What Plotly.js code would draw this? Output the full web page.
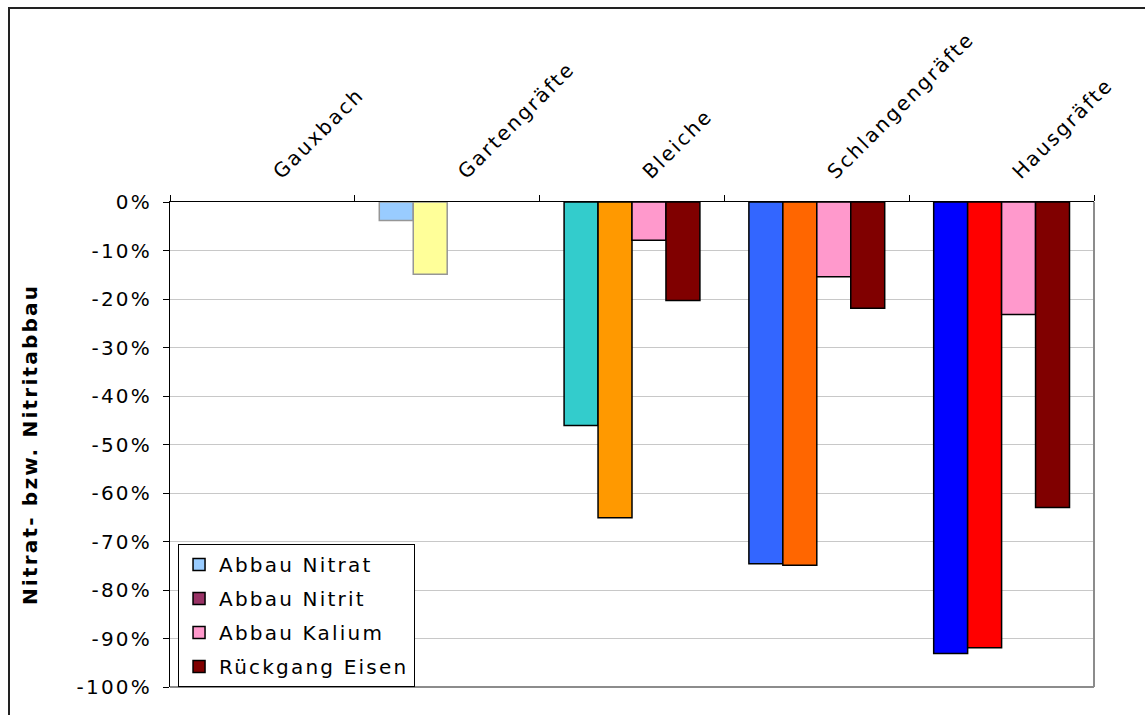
<!DOCTYPE html>
<html>
<head>
<meta charset="utf-8">
<script src="https://cdn.plot.ly/plotly-3.0.1.min.js"></script>
<style>
  html, body { margin: 0; padding: 0; background: #fff; overflow: hidden; }
  #chart { width: 1145px; height: 715px; position: relative; }
  svg text { letter-spacing: 2.2px; }
  #frame { position: absolute; left: 8px; top: 7px; width: 1300px; height: 900px;
           border-left: 2px solid #222; border-top: 2px solid #222; pointer-events: none; }
</style>
</head>
<body>
<div id="chart"></div>
<div id="frame"></div>
<script>
const categories = ["Gauxbach", "Gartengräfte", "Bleiche", "Schlangengräfte", "Hausgräfte"];
const seriesNames = ["Abbau Nitrat", "Abbau Nitrit", "Abbau Kalium", "Rückgang Eisen"];

const abbauNitrat   = [null, -0.038, -0.461, -0.746, -0.931];
const abbauNitrit   = [null, -0.149, -0.651, -0.749, -0.919];
const abbauKalium   = [null, null,   -0.079, -0.154, -0.232];
const rueckgangEisen= [null, null,   -0.203, -0.219, -0.630];

// first entry = legend swatch colour (Gauxbach has no bar)
const colorsNitrat = ["#99CCFF", "#99CCFF", "#33CCCC", "#3366FF", "#0000FF"];
const colorsNitrit = ["#993366", "#FFFF99", "#FF9900", "#FF6600", "#FF0000"];
const colorsKalium = ["#FF99CC", "#FF99CC", "#FF99CC", "#FF99CC", "#FF99CC"];
const colorsEisen  = ["#800000", "#800000", "#800000", "#800000", "#800000"];
const outlineColors = ["#000000", "#969696", "#000000", "#000000", "#000000"];

const yTickVals = [0, -0.1, -0.2, -0.3, -0.4, -0.5, -0.6, -0.7, -0.8, -0.9, -1.0];
const yTickText = ["0%", "-10%", "-20%", "-30%", "-40%", "-50%", "-60%", "-70%", "-80%", "-90%", "-100%"];

const values = [abbauNitrat, abbauNitrit, abbauKalium, rueckgangEisen];
const colors = [colorsNitrat, colorsNitrit, colorsKalium, colorsEisen];

const FONT = "DejaVu Sans, Verdana, sans-serif";

const traces = values.map((v, i) => ({
  type: "bar",
  name: seriesNames[i],
  x: categories,
  y: v,
  legendgroup: "g" + i,
  marker: { color: colors[i], line: { color: outlineColors, width: 1.5 } },
  hoverinfo: "skip"
}));

const layout = {
  width: 1145, height: 715,
  margin: { l: 170, r: 51, t: 202, b: 28, pad: 0 },
  paper_bgcolor: "#ffffff",
  plot_bgcolor: "#ffffff",
  barmode: "group",
  bargap: 0.265,
  bargroupgap: 0,
  font: { family: FONT, size: 20, color: "#000" },
  showlegend: true,
  legend: {
    x: 0.0087, y: 0.295, xanchor: "left", yanchor: "top",
    bgcolor: "#ffffff", bordercolor: "#000000", borderwidth: 1,
    font: { family: FONT, size: 20, color: "#000" },
    tracegroupgap: 5, traceorder: "grouped"
  },
  xaxis: {
    type: "category",
    side: "top",
    tickangle: -45,
    showline: true, linecolor: "#000", linewidth: 1,
    ticks: "outside", tickson: "boundaries", ticklen: 6, tickcolor: "#000",
    ticklabelstandoff: 10, ticklabelshift: 12,
    showgrid: false, zeroline: false,
    tickfont: { family: FONT, size: 20, color: "#000" },
    fixedrange: true
  },
  yaxis: {
    range: [-1, 0],
    tickvals: yTickVals, ticktext: yTickText,
    showline: true, linecolor: "#000", linewidth: 1,
    ticks: "outside", ticklen: 6, tickcolor: "#000",
    ticklabelstandoff: 7,
    showgrid: true, gridcolor: "#c8c8c8", gridwidth: 1,
    zeroline: false,
    tickfont: { family: FONT, size: 20, color: "#000" },
    title: { text: "<b>Nitrat- bzw. Nitritabbau</b>", font: { family: FONT, size: 20, color: "#000" }, standoff: 33 },
    fixedrange: true
  },
  shapes: [
    { type: "line", xref: "paper", yref: "paper", x0: 1, x1: 1, y0: 0, y1: 1, line: { color: "#8c8c8c", width: 2 } },
    { type: "line", xref: "paper", yref: "paper", x0: 0, x1: 1, y0: 0, y1: 0, line: { color: "#8c8c8c", width: 2 } }
  ]
};

Plotly.newPlot("chart", traces, layout, { displayModeBar: false, staticPlot: true });
</script>
</body>
</html>
